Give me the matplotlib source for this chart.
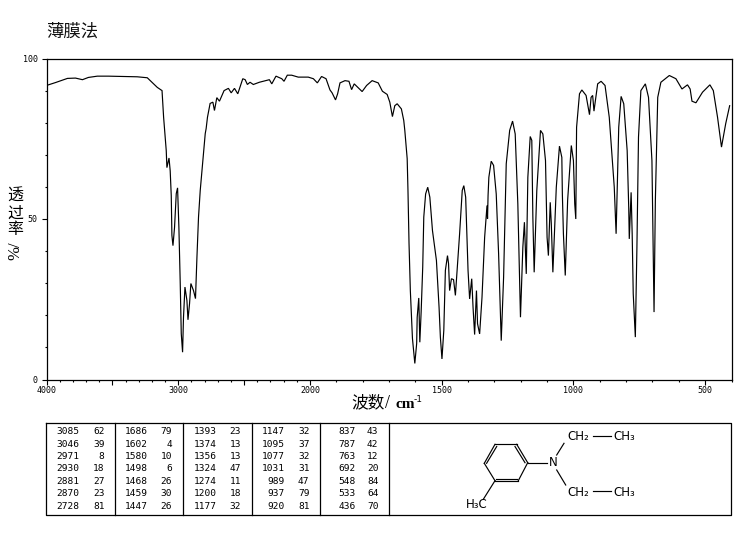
import numpy as np
import matplotlib
matplotlib.use("Agg")
import matplotlib.pyplot as plt

plt.rcParams["font.family"] = ["Noto Sans CJK SC", "DejaVu Sans"]

# ── spectrum ──────────────────────────────────────────────────────────────────
WAVENUMBER = [
    4000, 3932, 3841, 3780, 3727, 3682, 3614, 3530, 3311, 3235, 3159, 3123, 3111, 3091, 3086,
    3070, 3061, 3053, 3048, 3040, 3028, 3015, 3005, 2995, 2985, 2977, 2967, 2960, 2949, 2934,
    2926, 2914, 2904, 2884, 2869, 2858, 2846, 2833, 2813, 2795, 2788, 2778, 2758, 2737, 2725,
    2707, 2687, 2652, 2619, 2598, 2573, 2548, 2510, 2492, 2475, 2455, 2430, 2384, 2308, 2290,
    2258, 2214, 2197, 2172, 2139, 2089, 2013, 1987, 1972, 1956, 1939, 1924, 1916, 1903, 1895,
    1886, 1867, 1852, 1842, 1832, 1817, 1802, 1785, 1764, 1741, 1725, 1707, 1697, 1687, 1678,
    1669, 1653, 1644, 1640, 1631, 1628, 1624, 1619, 1611, 1602, 1595, 1593, 1587, 1583, 1578,
    1572, 1568, 1561, 1553, 1545, 1535, 1520, 1510, 1505, 1499, 1492, 1486, 1478, 1474, 1470,
    1463, 1455, 1448, 1442, 1432, 1422, 1416, 1409, 1400, 1394, 1386, 1381, 1375, 1368, 1364,
    1356, 1347, 1337, 1328, 1326, 1324, 1321, 1312, 1303, 1293, 1284, 1274, 1265, 1255, 1242,
    1231, 1221, 1211, 1201, 1192, 1186, 1179, 1173, 1164, 1158, 1154, 1149, 1139, 1125, 1116,
    1106, 1100, 1095, 1088, 1084, 1078, 1065, 1053, 1044, 1042, 1038, 1031, 1022, 1012, 1008,
    1000, 995, 991, 988, 977, 968, 952, 939, 933, 927, 922, 908, 895, 880, 864,
    853, 845, 838, 828, 819, 809, 796, 790, 788, 781, 777, 773, 765, 759, 753,
    744, 727, 715, 702, 694, 689, 680, 668, 636, 611, 588, 567, 557, 550, 535,
    510, 482, 469, 453, 438, 422, 407,
]
TRANSMITTANCE = [
    91.6, 92.5, 93.8, 93.9, 93.4, 94.1, 94.5, 94.5, 94.3, 94.0, 91.0, 90.0, 81.7, 71.3, 66.0,
    69.0, 65.0, 57.3, 44.9, 41.7, 47.4, 57.9, 59.7, 47.4, 30.3, 14.3, 8.5, 19.4, 28.8, 24.6,
    18.6, 23.7, 29.9, 27.7, 25.2, 38.1, 50.6, 58.9, 68.2, 76.6, 78.2, 81.7, 86.0, 86.4, 83.8,
    87.8, 86.7, 90.0, 90.7, 89.3, 90.7, 89.0, 93.7, 93.4, 91.9, 92.6, 91.9, 92.6, 93.4, 92.1,
    94.5, 93.7, 92.9, 94.8, 94.8, 94.2, 94.2, 93.7, 92.4, 94.4, 93.7, 90.2, 89.3, 87.1, 89.0,
    92.4, 93.1, 92.9, 90.3, 92.1, 90.9, 89.7, 91.6, 93.1, 92.4, 89.8, 88.8, 86.4, 81.9, 85.3,
    85.9, 84.3, 80.7, 77.6, 68.8, 58.9, 42.4, 27.7, 12.8, 5.0, 11.2, 19.4, 25.4, 11.6, 21.0,
    35.0, 50.6, 57.8, 59.9, 56.8, 46.4, 37.1, 22.5, 13.2, 6.4, 15.3, 34.0, 38.6, 36.1, 27.7,
    31.4, 31.1, 26.2, 33.4, 45.4, 58.9, 60.4, 56.8, 34.0, 25.1, 31.4, 22.5, 14.0, 27.7, 17.4,
    14.2, 25.6, 44.3, 54.2, 50.1, 57.3, 63.0, 68.0, 66.7, 57.8, 39.2, 12.1, 31.9, 67.2, 77.6,
    80.5, 76.5, 54.7, 19.4, 41.2, 49.0, 32.9, 63.0, 75.7, 74.5, 50.6, 33.4, 58.9, 77.6, 76.5,
    68.2, 44.3, 38.6, 55.2, 48.5, 33.4, 59.9, 72.7, 69.2, 57.8, 45.4, 32.4, 55.8, 68.2, 72.9,
    68.2, 54.7, 50.0, 78.6, 89.0, 90.2, 88.5, 82.5, 87.9, 88.5, 83.6, 92.1, 92.9, 91.6, 81.7,
    69.2, 59.9, 45.4, 78.6, 88.2, 85.9, 71.3, 53.3, 43.8, 58.3, 45.4, 26.7, 13.2, 41.2, 75.5,
    90.0, 92.1, 87.9, 68.2, 21.0, 55.8, 87.9, 92.6, 94.7, 93.7, 90.5, 91.8, 90.5, 86.7, 86.2,
    89.5, 91.8, 90.0, 81.7, 72.4, 79.7, 85.3,
]

X_LABELLED = [4000, 3000, 2000, 1500, 1000, 500]
Y_LABELLED = [0, 50, 100]

# peak table, one list per column block
PEAK_WAVENUMBERS = [
    ["3085", "3046", "2971", "2930", "2881", "2870", "2728"],
    ["1686", "1602", "1580", "1498", "1468", "1459", "1447"],
    ["1393", "1374", "1356", "1324", "1274", "1200", "1177"],
    ["1147", "1095", "1077", "1031", "989", "937", "920"],
    ["837", "787", "763", "692", "548", "533", "436"],
]
PEAK_INTENSITIES = [
    ["62", "39", "8", "18", "27", "23", "81"],
    ["79", "4", "10", "6", "26", "30", "26"],
    ["23", "13", "13", "47", "11", "18", "32"],
    ["32", "37", "32", "31", "47", "79", "81"],
    ["43", "42", "12", "20", "84", "64", "70"],
]


def stretch(w):
    # the chart doubles its scale below 2000 cm-1
    w = np.asarray(w, dtype=float)
    return np.where(w > 2000, w, 2000 + (w - 2000) * 2)


def unstretch(u):
    u = np.asarray(u, dtype=float)
    return np.where(u > 2000, u, 2000 + (u - 2000) / 2)


W, H = 748, 539
fig = plt.figure(figsize=(W / 100, H / 100), dpi=100)

# ── spectrum axes ─────────────────────────────────────────────────────────────
ax = fig.add_axes([46.5 / W, 1 - 379.5 / H, 685 / W, 321 / H])
ax.set_xscale("function", functions=(stretch, unstretch))
ax.plot(WAVENUMBER, TRANSMITTANCE, color="black", lw=0.85, solid_joinstyle="miter")
ax.set_xlim(4000, 400)
ax.set_ylim(0, 100)

ax.set_xticks(np.arange(500, 4001, 500))
ax.set_xticklabels([str(t) if t in X_LABELLED else "" for t in np.arange(500, 4001, 500)])
ax.set_xticks(np.arange(400, 4001, 100), minor=True)
ax.set_yticks(Y_LABELLED)
ax.set_yticks(np.arange(0, 101, 10), minor=True)
ax.tick_params(axis="both", which="major", length=3.4, width=0.8, labelsize=6)
ax.tick_params(axis="x", which="major", pad=1.5)
ax.tick_params(axis="y", which="major", pad=3)
ax.tick_params(axis="both", which="minor", length=1.5, width=0.8)
for lab in ax.get_xticklabels() + ax.get_yticklabels():
    lab.set_fontfamily("DejaVu Sans Mono")
for spine in ax.spines.values():
    spine.set_linewidth(0.9)

# ── overlay in pixel coordinates for the labels, table and structure ──────────
ov = fig.add_axes([0, 0, 1, 1], facecolor="none")
ov.set_xlim(0, W)
ov.set_ylim(H, 0)
ov.axis("off")

ov.text(46, 31.5, "薄膜法", fontsize=12.5, ha="left", va="center", color="#111111")
ov.text(15, 213, "透\n过\n率", fontsize=11.5, ha="center", va="center",
        linespacing=0.98, fontweight="medium")
ov.text(15, 251, "%/", fontsize=12, rotation=90, ha="center", va="center",
        family="Liberation Serif")
ov.text(351, 403, "波数", fontsize=12, ha="left", va="center", fontweight="medium")
ov.text(385, 403, "/", fontsize=13, ha="left", va="center", family="Liberation Serif")
ov.text(396, 404, "cm", fontsize=11, ha="left", va="center", family="Liberation Serif",
        fontweight="bold")
ov.text(414, 399, "-1", fontsize=6.5, ha="left", va="center", family="DejaVu Sans")

# peak table frame
ov.plot([46.5, 731.5, 731.5, 46.5, 46.5], [422.5, 422.5, 514.5, 514.5, 422.5],
        color="black", lw=0.9)
for x in [115.5, 183.5, 252.5, 320.5, 389.5]:
    ov.plot([x, x], [422.5, 514.5], color="black", lw=0.9)

col_wave = [79.5, 147.5, 216.5, 285, 356]
col_int = [104.5, 172, 241, 309.5, 378.5]
for c in range(5):
    for r in range(7):
        y = 431.7 + r * 12.4
        ov.text(col_wave[c], y, PEAK_WAVENUMBERS[c][r], fontsize=6.8, ha="right", va="center",
                family="DejaVu Sans Mono")
        ov.text(col_int[c], y, PEAK_INTENSITIES[c][r], fontsize=6.8, ha="right", va="center",
                family="DejaVu Sans Mono")

# structure: ring, double bonds, substituents
bonds = [
    ((495, 444.3), (516.7, 444.3)), ((516.7, 444.3), (527.7, 462.7)),
    ((527.7, 462.7), (518.3, 480.7)), ((518.3, 480.7), (495, 480.7)),
    ((495, 480.7), (484.3, 463.3)), ((484.3, 463.3), (495, 444.3)),
    ((496.7, 446.5), (486.6, 463.3)), ((515, 446.5), (525, 462.7)),
    ((496.5, 478.5), (517, 478.5)),
    ((527.7, 462.7), (546.7, 462.7)),
    ((556.7, 455), (564, 443.3)), ((556.7, 470), (565.7, 485)),
    ((593.3, 436), (610.7, 436)), ((593.3, 491), (610.7, 491)),
    ((495, 480.7), (483.3, 499.3)),
]
for (x0, y0), (x1, y1) in bonds:
    ov.plot([x0, x1], [y0, y1], color="black", lw=0.85)

mol = dict(fontsize=8.5, va="center", ha="left", family="DejaVu Sans")
ov.text(548.5, 463, "N", **mol)
ov.text(567.5, 437, "CH₂", **mol)
ov.text(613, 437, "CH₃", **mol)
ov.text(567.5, 492, "CH₂", **mol)
ov.text(613, 492, "CH₃", **mol)
ov.text(466, 504, "H₃C", **mol)

fig.savefig("out.png", dpi=100)
